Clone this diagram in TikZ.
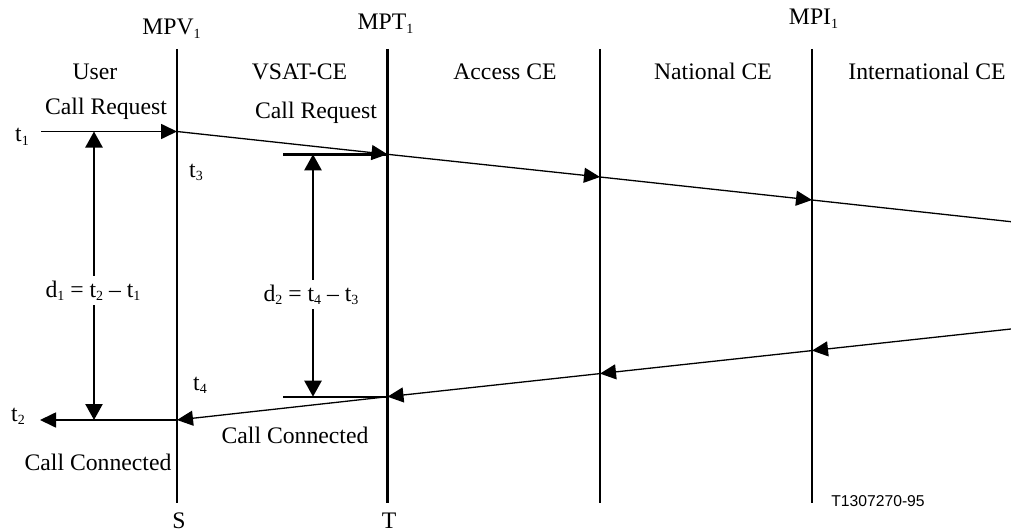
\documentclass[tikz,border=0pt]{standalone}
\usepackage{fontspec}
\setmainfont{Liberation Serif}
\newfontfamily\figsans{Liberation Sans}
\usetikzlibrary{arrows.meta}
% small lowered index digit, as in t1, MPV1
\newcommand\lowidx[1]{\raisebox{-3.5pt}{\fontsize{14}{14}\selectfont #1}}

\begin{document}
\begin{tikzpicture}[x=1pt,y=-1pt,
  txt/.style={anchor=base,inner sep=0pt,font=\fontsize{23.7}{28}\selectfont},
  lifeline/.style={line width=2.4pt},
  msg/.style={line width=1.3pt,-{Triangle[length=16pt,width=15pt]}},
  plain/.style={line width=1.3pt},
  tick/.style={line width=2.4pt},
  delay/.style={line width=2.4pt,-{Triangle[length=16pt,width=17pt]}},
  dlabel/.style={txt,inner sep=4.5pt}]

\path[use as bounding box] (0,0) rectangle (1011,532);

% lifelines
\coordinate (vTop) at (177,49);   \coordinate (vBot) at (177,503);
\coordinate (tTop) at (387.5,49); \coordinate (tBot) at (387.5,503);
\coordinate (aTop) at (600,49);   \coordinate (aBot) at (600,503);
\coordinate (iTop) at (812,49);   \coordinate (iBot) at (812,503);
\foreach \l in {v,t,a,i} \draw[lifeline] (\l Top) -- (\l Bot);

% call request points
\coordinate (reqStart) at (41,131.5);
\coordinate (reqV) at (177,131.5);
\coordinate (reqT) at (387.5,154.3);
\coordinate (reqA) at (600,177);
\coordinate (reqI) at (812,200);
\coordinate (reqEnd) at (1011,221.7);

% call connected points
\coordinate (conEnd) at (1011,329);
\coordinate (conI) at (812,350.6);
\coordinate (conA) at (600,373.6);
\coordinate (conT) at (387.5,396.7);
\coordinate (conV) at (177,420);
\coordinate (conStop) at (40,420);

% call request messages
\draw[msg,line width=1.7pt] (reqStart) -- (reqV);
\draw[msg] (reqV) -- (reqT);
\draw[msg] (reqT) -- (reqA);
\draw[msg] (reqA) -- (reqI);
\draw[plain] (reqI) -- (reqEnd);

% call connected messages
\draw[msg] (conEnd) -- (conI);
\draw[msg] (conI) -- (conA);
\draw[msg] (conA) -- (conT);
\draw[msg] (conT) -- (conV);
\draw[msg,line width=1.7pt] (conV) -- (conStop);

% delay ticks at MPT1
\coordinate (tick3) at (283,154.3);
\coordinate (tick4) at (283,396.7);
\draw[tick] (tick3) -- (reqT);
\draw[tick] (tick4) -- (conT);

% delay measures
\coordinate (d1top) at (94,131.5);
\coordinate (d1bot) at (94,420);
\coordinate (d2top) at (313,154.3);
\coordinate (d2bot) at (313,396.7);
\node[dlabel] (d1lbl) at (93,297) {d\lowidx{1} = t\lowidx{2} -- t\lowidx{1}};
\node[dlabel] (d2lbl) at (311,301) {d\lowidx{2} = t\lowidx{4} -- t\lowidx{3}};
\draw[delay] (d1lbl.north -| d1top) -- (d1top);
\draw[delay] (d1lbl.south -| d1bot) -- (d1bot);
\draw[delay] (d2lbl.north -| d2top) -- (d2top);
\draw[delay] (d2lbl.south -| d2bot) -- (d2bot);

% measurement point names
\node[txt] (mpv) at (171.5,35) {MPV\lowidx{1}};
\node[txt] (mpt) at (385.5,30) {MPT\lowidx{1}};
\node[txt] (mpi) at (813.5,25) {MPI\lowidx{1}};

% zones
\node[txt] (user) at (95,80) {User};
\node[txt] (vsat) at (299.5,80) {VSAT-CE};
\node[txt] (access) at (505,80) {Access CE};
\node[txt] (national) at (713,80) {National CE};
\node[txt] (intl) at (927,80) {International CE};

% message names
\node[txt] (req1) at (106,115) {Call Request};
\node[txt] (req2) at (316,118) {Call Request};
\node[txt] (con2) at (295,443) {Call Connected};
\node[txt] (con1) at (98,470) {Call Connected};

% instants
\node[txt] (t1) at (22,142) {t\lowidx{1}};
\node[txt] (t3) at (196,177) {t\lowidx{3}};
\node[txt] (t4) at (200,390) {t\lowidx{4}};
\node[txt] (t2) at (18,421) {t\lowidx{2}};

% reference points
\node[txt] (refS) at (179,528.5) {S};
\node[txt] (refT) at (389,528.5) {T};

\node[anchor=base,inner sep=0pt,font=\figsans\fontsize{15.7}{18}\selectfont] (figno) at (878,506.5) {T1307270-95};
\end{tikzpicture}
\end{document}
